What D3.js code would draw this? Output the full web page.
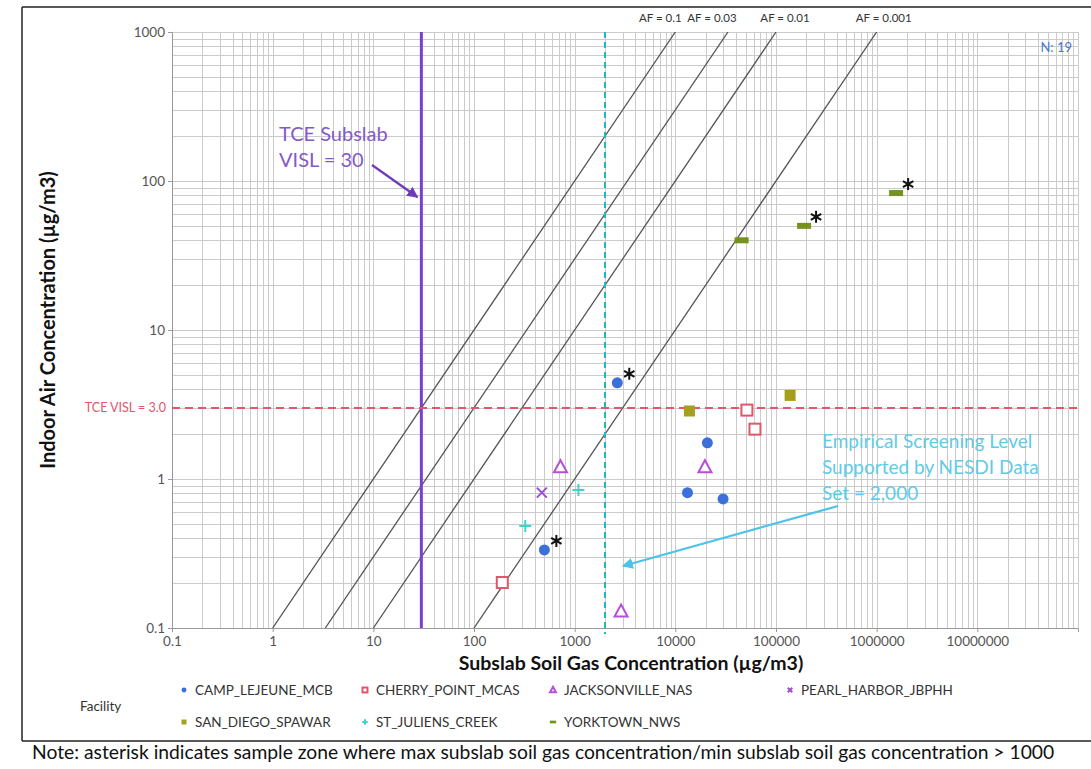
<!DOCTYPE html>
<html>
<head>
<meta charset="utf-8">
<script src="https://cdn.jsdelivr.net/npm/d3@7"></script>
<style>
  html, body { margin: 0; padding: 0; background: #fff; }
  svg { display: block; font-family: Lato, "Open Sans", sans-serif; }
</style>
</head>
<body>
<svg id="chart" width="1091" height="769"></svg>
<script>
// ---- data: subslab soil gas (x) vs indoor air (y), µg/m3 ----
const facilities = ["CAMP_LEJEUNE_MCB", "CHERRY_POINT_MCAS", "JACKSONVILLE_NAS", "PEARL_HARBOR_JBPHH",
                    "SAN_DIEGO_SPAWAR", "ST_JULIENS_CREEK", "YORKTOWN_NWS"];

const campLejeuneSubslab = [2650, 20800, 13200, 29800, 500];
const campLejeuneIndoor  = [4.42, 1.75, 0.81, 0.735, 0.334];
const cherryPointSubslab = [191, 51400, 61800];
const cherryPointIndoor  = [0.202, 2.9, 2.16];
const jacksonvilleSubslab = [723, 19700, 2890];
const jacksonvilleIndoor  = [1.2, 1.2, 0.129];
const pearlHarborSubslab = [472];
const pearlHarborIndoor  = [0.81];
const sanDiegoSubslab = [13800, 138000];
const sanDiegoIndoor  = [2.86, 3.64];
const stJuliensSubslab = [323, 1090];
const stJuliensIndoor  = [0.484, 0.844];
const yorktownSubslab = [45500, 190000, 1560000];
const yorktownIndoor  = [40, 50, 83];

// sample zones where max/min subslab ratio > 1000: [facility index, point index]
const flaggedZones = [[0, 0], [0, 4], [6, 1], [6, 2]];

// attenuation factor reference lines (indoor = AF × subslab)
const attenuationFactors = [0.1, 0.03, 0.01, 0.001];
const afLabels = ["AF = 0.1", "AF = 0.03", "AF = 0.01", "AF = 0.001"];

// screening levels
const subslabVISL = 30;
const empiricalLevel = 2000;
const indoorVISL = 3.0;

const xTicks = [0.1, 1, 10, 100, 1000, 10000, 100000, 1000000, 10000000];
const yTicks = [0.1, 1, 10, 100, 1000];

// ---- layout ----
const svg = d3.select("#chart");
const x = d3.scaleLog().domain([0.1, 1e8]).range([172, 1078]);
const y = d3.scaleLog().domain([0.1, 1000]).range([628, 32]);

const series = [
  { name: facilities[0], xs: campLejeuneSubslab, ys: campLejeuneIndoor, kind: "circle",   color: "#3b6fd9" },
  { name: facilities[1], xs: cherryPointSubslab, ys: cherryPointIndoor, kind: "square",   color: "#e2566b" },
  { name: facilities[2], xs: jacksonvilleSubslab, ys: jacksonvilleIndoor, kind: "triangle", color: "#b84fdc" },
  { name: facilities[3], xs: pearlHarborSubslab, ys: pearlHarborIndoor, kind: "times",    color: "#9b4ed2" },
  { name: facilities[4], xs: sanDiegoSubslab, ys: sanDiegoIndoor, kind: "fsquare",  color: "#a69f1c" },
  { name: facilities[5], xs: stJuliensSubslab, ys: stJuliensIndoor, kind: "plus",     color: "#3fd3d0" },
  { name: facilities[6], xs: yorktownSubslab, ys: yorktownIndoor, kind: "dash",     color: "#74921c" }
];

// outer frame
const frame = svg.append("g").attr("stroke", "#222").attr("stroke-width", 1.5);
frame.append("line").attr("x1", 22).attr("y1", 7).attr("x2", 1091).attr("y2", 7);
frame.append("line").attr("x1", 22).attr("y1", 7).attr("x2", 22).attr("y2", 741);
frame.append("line").attr("x1", 22).attr("y1", 741).attr("x2", 1091).attr("y2", 741);

// grid (1..9 within each decade)
const grid = svg.append("g").attr("stroke", "#cbcbcb").attr("stroke-width", 1);
const xGridVals = [], yGridVals = [];
for (let e = -1; e < 8; e++) for (let k = 1; k <= 9; k++) xGridVals.push(k * Math.pow(10, e));
for (let e = -1; e < 3; e++) for (let k = 1; k <= 9; k++) yGridVals.push(k * Math.pow(10, e));
xGridVals.push(1e8); yGridVals.push(1000);
grid.selectAll(".gx").data(xGridVals).join("line")
  .attr("x1", d => Math.round(x(d)) + 0.5).attr("x2", d => Math.round(x(d)) + 0.5)
  .attr("y1", y(1000)).attr("y2", y(0.1));
grid.selectAll(".gy").data(yGridVals).join("line")
  .attr("y1", d => Math.round(y(d)) + 0.5).attr("y2", d => Math.round(y(d)) + 0.5)
  .attr("x1", x(0.1)).attr("x2", x(1e8));

// axes
const fmt = d => d < 1 ? String(d) : d3.format("d")(d);
const xAxis = svg.append("g").attr("transform", `translate(0,${y(0.1)})`)
  .call(d3.axisBottom(x).tickValues(xTicks).tickFormat(fmt).tickSize(4).tickPadding(4));
const yAxis = svg.append("g").attr("transform", `translate(${x(0.1)},0)`)
  .call(d3.axisLeft(y).tickValues(yTicks).tickFormat(fmt).tickSize(4).tickPadding(3));
[xAxis, yAxis].forEach(a => {
  a.select(".domain").attr("stroke", "#999");
  a.selectAll(".tick line").attr("stroke", "#999");
  a.selectAll(".tick text").attr("fill", "#555").attr("font-size", 13.5)
    .attr("font-family", "Lato, sans-serif");
});

// clip for reference lines
svg.append("clipPath").attr("id", "plotClip").append("rect")
  .attr("x", x(0.1)).attr("y", y(1000)).attr("width", x(1e8) - x(0.1)).attr("height", y(0.1) - y(1000));

// attenuation factor lines
const afG = svg.append("g").attr("clip-path", "url(#plotClip)");
afG.selectAll("line").data(attenuationFactors).join("line")
  .attr("x1", d => x(0.1 / d)).attr("y1", y(0.1))
  .attr("x2", d => x(1000 / d)).attr("y2", y(1000))
  .attr("stroke", "#555").attr("stroke-width", 1.3);
svg.append("g").selectAll("text").data(attenuationFactors).join("text")
  .attr("x", (d, i) => x(1000 / d) + [-15, -16, 9, 7][i])
  .attr("y", 22)
  .attr("text-anchor", "middle").attr("font-size", 11.5).attr("fill", "#333")
  .text((d, i) => afLabels[i]);

// screening level lines
svg.append("line").attr("x1", x(subslabVISL)).attr("x2", x(subslabVISL))
  .attr("y1", y(1000)).attr("y2", y(0.1))
  .attr("stroke", "#7b3fcf").attr("stroke-width", 3);
svg.append("line").attr("x1", x(empiricalLevel)).attr("x2", x(empiricalLevel))
  .attr("y1", y(1000)).attr("y2", y(0.1) + 6)
  .attr("stroke", "#1fb7c2").attr("stroke-width", 2).attr("stroke-dasharray", "6,4");
svg.append("line").attr("x1", x(0.1)).attr("x2", x(1e8))
  .attr("y1", y(indoorVISL)).attr("y2", y(indoorVISL))
  .attr("stroke", "#e2566b").attr("stroke-width", 2).attr("stroke-dasharray", "8,5");
svg.append("text").attr("x", x(0.1) - 6).attr("y", y(indoorVISL) + 4)
  .attr("text-anchor", "end").attr("font-size", 12.5).attr("fill", "#e2566b")
  .text("TCE VISL = " + indoorVISL.toFixed(1));

// annotations
svg.append("defs").selectAll("marker").data([["arrP", "#6f3ab8"], ["arrC", "#4cc3ea"]]).join("marker")
  .attr("id", d => d[0]).attr("viewBox", "0 0 10 10").attr("refX", 9).attr("refY", 5)
  .attr("markerWidth", 5).attr("markerHeight", 5).attr("orient", "auto")
  .append("path").attr("d", "M0,0L10,5L0,10z").attr("fill", d => d[1]);

const purpleNote = svg.append("text").attr("font-size", 20).attr("fill", "#8559c9");
purpleNote.append("tspan").attr("x", 279).attr("y", 141).text("TCE Subslab");
purpleNote.append("tspan").attr("x", 279).attr("y", 167).text("VISL = " + subslabVISL);
svg.append("line").attr("x1", 372).attr("y1", 165).attr("x2", x(subslabVISL) - 4).attr("y2", 197)
  .attr("stroke", "#6f3ab8").attr("stroke-width", 2.2).attr("marker-end", "url(#arrP)");

const cyanNote = svg.append("text").attr("font-size", 19).attr("fill", "#5fcbe9");
cyanNote.append("tspan").attr("x", 822).attr("y", 448).text("Empirical Screening Level");
cyanNote.append("tspan").attr("x", 822).attr("y", 474).text("Supported by NESDI Data");
cyanNote.append("tspan").attr("x", 822).attr("y", 500).text("Set = " + d3.format(",")(empiricalLevel));
svg.append("line").attr("x1", 838).attr("y1", 506).attr("x2", 623).attr("y2", 566)
  .attr("stroke", "#4cc3ea").attr("stroke-width", 2.2).attr("marker-end", "url(#arrC)");

svg.append("text").attr("x", 1072).attr("y", 52).attr("text-anchor", "end")
  .attr("font-size", 13).attr("fill", "#4a78cc").text("N: 19");

// marker drawing
function drawMarker(g, kind, color, scale) {
  const s = scale || 1;
  if (kind === "circle") g.append("circle").attr("r", 5.5 * s).attr("fill", color);
  else if (kind === "square") g.append("rect").attr("x", -5.5 * s).attr("y", -5.5 * s).attr("width", 11 * s).attr("height", 11 * s)
    .attr("fill", "#fff").attr("stroke", color).attr("stroke-width", 2);
  else if (kind === "fsquare") g.append("rect").attr("x", -5.5 * s).attr("y", -5.5 * s).attr("width", 11 * s).attr("height", 11 * s)
    .attr("fill", color);
  else if (kind === "triangle") g.append("path")
    .attr("d", `M0,${-7 * s}L${6.5 * s},${5 * s}L${-6.5 * s},${5 * s}Z`)
    .attr("fill", "#fff").attr("stroke", color).attr("stroke-width", 2);
  else if (kind === "times") g.append("path")
    .attr("d", `M${-5 * s},${-5 * s}L${5 * s},${5 * s}M${5 * s},${-5 * s}L${-5 * s},${5 * s}`)
    .attr("stroke", color).attr("stroke-width", 2);
  else if (kind === "plus") g.append("path")
    .attr("d", `M${-6 * s},0L${6 * s},0M0,${-6 * s}L0,${6 * s}`)
    .attr("stroke", color).attr("stroke-width", 2);
  else if (kind === "dash") g.append("rect").attr("x", -7 * s).attr("y", -3 * s).attr("width", 14 * s).attr("height", 6 * s)
    .attr("fill", color);
}

const ptsG = svg.append("g");
series.forEach(sr => {
  sr.xs.forEach((xv, i) => {
    const g = ptsG.append("g").attr("transform", `translate(${x(xv)},${y(sr.ys[i])})`);
    drawMarker(g, sr.kind, sr.color, 1);
  });
});

// asterisks beside flagged zones
const star = "M0,-6L0,6M-5.2,-3L5.2,3M-5.2,3L5.2,-3";
svg.append("g").selectAll("path").data(flaggedZones).join("path")
  .attr("transform", d => `translate(${x(series[d[0]].xs[d[1]]) + 12},${y(series[d[0]].ys[d[1]]) - 9})`)
  .attr("d", star).attr("stroke", "#111").attr("stroke-width", 2);

// axis titles
svg.append("text").attr("x", 631).attr("y", 670).attr("text-anchor", "middle")
  .attr("font-size", 19.5).attr("font-weight", "bold").attr("fill", "#111")
  .text("Subslab Soil Gas Concentration (µg/m3)");
svg.append("text").attr("transform", "translate(55,320) rotate(-90)").attr("text-anchor", "middle")
  .attr("font-size", 20).attr("font-weight", "bold").attr("fill", "#111")
  .text("Indoor Air Concentration (µg/m3)");

// legend
const legend = svg.append("g").attr("font-size", 13.5).attr("fill", "#333");
legend.append("text").attr("x", 80).attr("y", 711).text("Facility");
const legendPos = [[184, 690], [365, 690], [553, 690], [790, 690], [184, 722], [365, 722], [553, 722]];
series.forEach((sr, i) => {
  const [lx, ly] = legendPos[i];
  const g = legend.append("g").attr("transform", `translate(${lx},${ly})`);
  drawMarker(g, sr.kind, sr.color, 0.45);
  legend.append("text").attr("x", lx + 11).attr("y", ly + 5).text(sr.name);
});

// footnote
svg.append("text").attr("x", 32).attr("y", 759).attr("font-size", 19.3).attr("fill", "#111")
  .text("Note: asterisk indicates sample zone where max subslab soil gas concentration/min subslab soil gas concentration > 1000");
</script>
</body>
</html>
